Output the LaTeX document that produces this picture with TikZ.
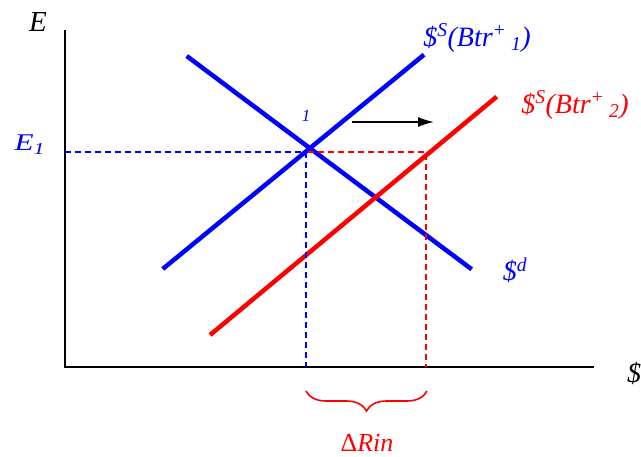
\documentclass[tikz,border=0pt]{standalone}
\usepackage{graphicx}
\usepackage{fontspec}
\setmainfont{Liberation Serif}
\usetikzlibrary{arrows.meta,decorations.pathreplacing}

\begin{document}
\begin{tikzpicture}[
    x=1pt, y=-1pt,
    >={Latex[length=16pt,width=10pt]},
    axis/.style={line width=1.6pt},
    curve/.style={line width=4.5pt},
    guide/.style={line width=1.2pt, dash pattern=on 6pt off 4pt},
    lbl/.style={font=\fontsize{28}{32}\selectfont\itshape, inner sep=0pt}
]
\useasboundingbox (0,0) rectangle (641,456);

% Achsen
\coordinate (orig) at (65,367);
\coordinate (ytop) at (65,30);
\coordinate (xend) at (594,367);
\draw[axis] (ytop) -- (orig) -- (xend);
\node[lbl, font=\fontsize{29}{32}\selectfont\itshape] (ylab) at (38,22) {E};
\node[lbl, anchor=west] (xlab) at (627,373) {\$};

% Kurven
\coordinate (s1a) at (162.7,269);
\coordinate (s1b) at (424,54.7);
\coordinate (da) at (186.7,56);
\coordinate (db) at (471.7,269.3);
\coordinate (s2a) at (210,335);
\coordinate (s2b) at (496.7,96.7);
\draw[curve, blue] (s1a) -- (s1b);
\draw[curve, blue] (da) -- (db);
\draw[curve, red] (s2a) -- (s2b);

\node[lbl, blue] (s1lab) at (477,38) {\$\textsuperscript{S}(Btr\textsuperscript{+}\,\textsubscript{1})};
\node[lbl, red] (s2lab) at (575,105) {\$\textsuperscript{S}(Btr\textsuperscript{+}\,\textsubscript{2})};
\node[lbl, blue] (dlab) at (515,270) {\$\textsuperscript{d}};

% Gleichgewicht
\coordinate (eq) at (308,152);
\coordinate (eqB) at (426,152);
\node[lbl, blue, font=\fontsize{24}{28}\selectfont\itshape] (e1) at (30,145)
    {\scalebox{1.3}[1]{E\textsubscript{1}}};
\node[lbl, blue, font=\fontsize{17}{20}\selectfont\itshape] (pt1) at (306,116) {1};
\draw[guide, blue] (orig |- eq) -- (eq);
\draw[guide, blue] (306,152) -- (306,367);
\draw[guide, red] (eq) -- (eqB) -- (eqB |- orig);

% Verschiebung
\coordinate (sh0) at (352,122);
\coordinate (sh1) at (434,122);
\draw[->, line width=1.6pt] (sh0) -- (sh1);

% Klammer
\coordinate (brL) at (306,391);
\coordinate (brR) at (427,391);
\draw[red, line width=1.6pt, decorate,
      decoration={brace, mirror, amplitude=20pt}]
    (brL) -- (brR);
\node[lbl, red, font=\fontsize{26}{30}\selectfont] (drin) at (367,443) {Δ\textit{Rin}};

\end{tikzpicture}
\end{document}
